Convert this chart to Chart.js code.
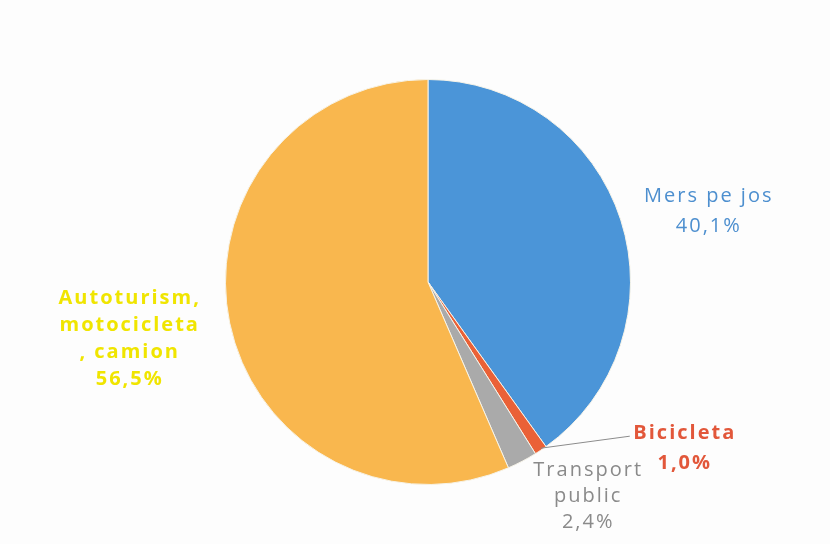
<!DOCTYPE html>
<html>
<head>
<meta charset="utf-8">
<script src="https://cdn.jsdelivr.net/npm/chart.js@4.4.0/dist/chart.umd.min.js"></script>
<style>
  html, body { margin: 0; padding: 0; background: #fdfdfd; }
  #wrap { width: 830px; height: 544px; }
</style>
</head>
<body>
<div id="wrap"><canvas id="pie"></canvas></div>
<script>
// data
const categories = ['Mers pe jos', 'Bicicleta', 'Transport public', 'Autoturism, motocicleta, camion'];
const shares = [40.1, 1.0, 2.4, 56.5];
const labelLines = [
    ['Mers pe jos', '40,1%'],
    ['Bicicleta', '1,0%'],
    ['Transport', 'public', '2,4%'],
    ['Autoturism,', 'motocicleta', ', camion', '56,5%']
];

const sliceColors = ['#4b95d8', '#ea6137', '#aaaaaa', '#f9b74e'];
const textColors = ['#4d8fcf', '#e2573a', '#8a8a8a', '#f0e500'];
const textBold = [false, true, false, true];
// offset of the label block centre from the rim point at the slice middle
const labelShift = [[87, -9], [143, -2], [65, 35], [-101, 16]];
const lineGap = [30, 30, 26, 27];
const leader = [false, true, false, false];

const labelPlugin = {
    id: 'sliceLabels',
    afterDatasetsDraw(chart) {
        const ctx = chart.ctx;
        const meta = chart.getDatasetMeta(0);
        meta.data.forEach((arc, i) => {
            const mid = (arc.startAngle + arc.endAngle) / 2;
            const rx = arc.x + Math.cos(mid) * arc.outerRadius;
            const ry = arc.y + Math.sin(mid) * arc.outerRadius;
            const cx = rx + labelShift[i][0];
            const cy = ry + labelShift[i][1];
            const lines = labelLines[i];
            const lh = lineGap[i];
            const top = cy - (lines.length - 1) * lh / 2;
            ctx.save();
            if (leader[i]) {
                ctx.strokeStyle = '#8c8c8c';
                ctx.lineWidth = 1;
                ctx.beginPath();
                ctx.moveTo(rx, ry - 2);
                ctx.lineTo(cx - 54, top + 3);
                ctx.stroke();
            }
            ctx.font = (textBold[i] ? 'bold ' : '') + '20px "Open Sans", sans-serif';
            ctx.letterSpacing = '2px';
            ctx.fillStyle = textColors[i];
            ctx.textAlign = 'center';
            ctx.textBaseline = 'middle';
            lines.forEach((t, k) => ctx.fillText(t, cx + 1, top + k * lh));
            ctx.restore();
        });
    }
};

new Chart(document.getElementById('pie'), {
    type: 'pie',
    data: {
        labels: categories,
        datasets: [{
            data: shares,
            backgroundColor: sliceColors,
            borderColor: '#f6f3e8',
            borderWidth: 1
        }]
    },
    options: {
        responsive: true,
        maintainAspectRatio: false,
        animation: false,
        layout: { padding: { top: 79, bottom: 59, left: 26, right: 0 } },
        plugins: {
            legend: { display: false },
            tooltip: { enabled: false }
        }
    },
    plugins: [labelPlugin]
});
</script>
</body>
</html>
